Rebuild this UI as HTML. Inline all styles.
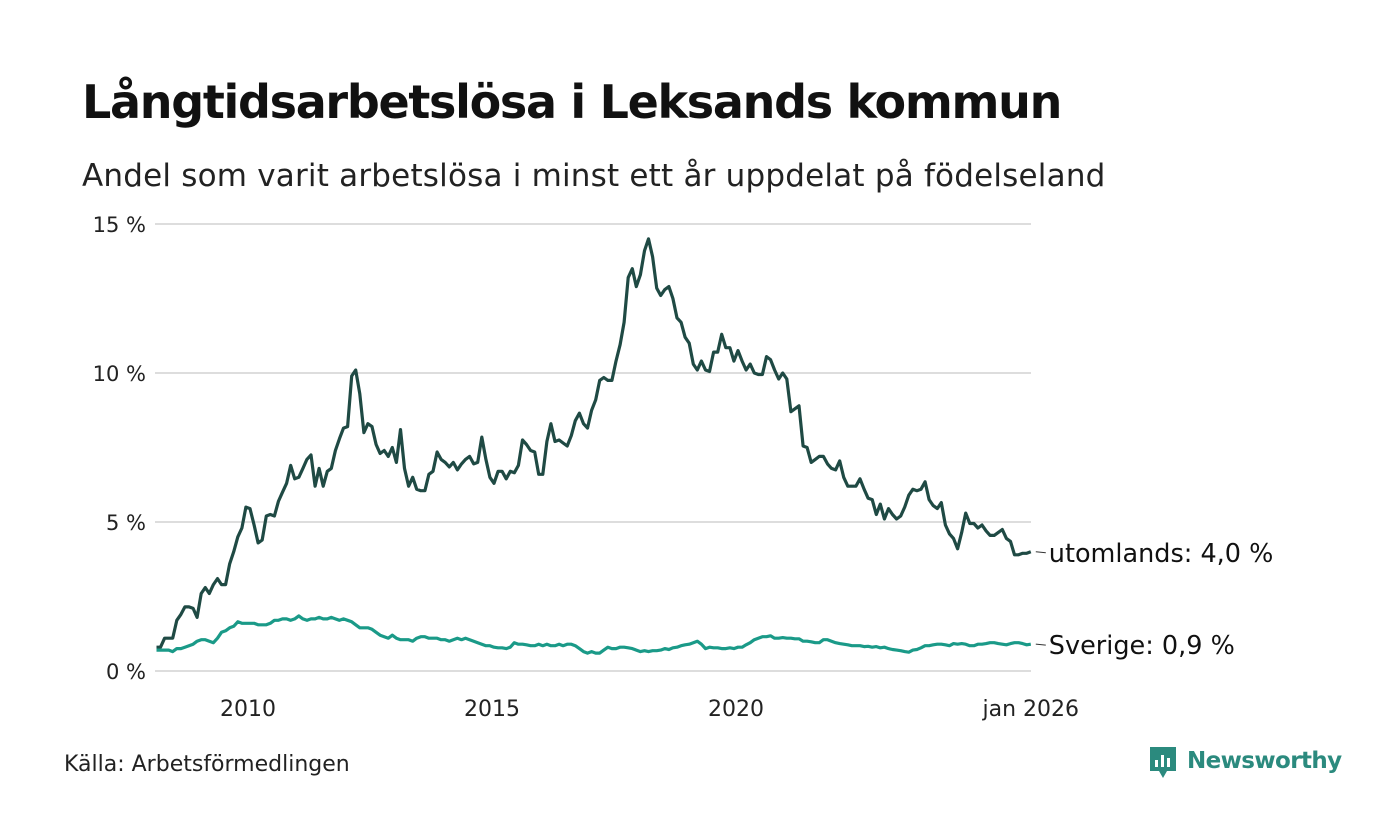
<!DOCTYPE html>
<html><head><meta charset="utf-8"><style>
html,body{margin:0;padding:0;background:#fff;}
body{width:1400px;height:840px;position:relative;overflow:hidden;font-family:"Liberation Sans","DejaVu Sans",sans-serif;}
</style></head><body>
<svg id="chart" width="1400" height="840" xmlns="http://www.w3.org/2000/svg" style="position:absolute;left:0;top:0">
<text x="82" y="118" font-size="46" font-weight="bold" fill="#111" font-family="DejaVu Sans, sans-serif" letter-spacing="-1.3">Långtidsarbetslösa i Leksands kommun</text>
<text x="82" y="186" font-size="31" fill="#222" font-family="DejaVu Sans, sans-serif" letter-spacing="0.2">Andel som varit arbetslösa i minst ett år uppdelat på födelseland</text>
<g id="grid"></g>
<g id="yticks"></g>
<g id="xticks"></g>
<g id="series"></g>
<text x="64" y="771" font-size="22" fill="#222" font-family="DejaVu Sans, sans-serif">Källa: Arbetsförmedlingen</text>
<g>
<path d="M1150 747 h26 v24 h-9 l-4 7 l-4 -7 h-9 z" fill="#2b8a7e"/>
<rect x="1155" y="760" width="3" height="7" fill="#fff"/><rect x="1161" y="755" width="3" height="12" fill="#fff"/><rect x="1167" y="758" width="3" height="9" fill="#fff"/>
<text x="1187" y="768" font-size="23" font-weight="bold" fill="#2b8a7e" font-family="DejaVu Sans, sans-serif" letter-spacing="-0.6">Newsworthy</text>
</g>
</svg>
<script>
const yTicks=[0,5,10,15];
const yTickLabels=["0 %","5 %","10 %","15 %"];
const xTickYears=[2010,2015,2020];
const startYear=2008, startMonth=1; // Feb 2008 (0-based month)
const foreign=[
0.8,0.8,1.1,1.1,1.1,1.7,1.9,2.15,2.15,2.1,1.8,
2.6,2.8,2.6,2.9,3.1,2.9,2.9,3.6,4.0,4.5,4.8,5.5,
5.45,4.9,4.3,4.4,5.2,5.25,5.2,5.7,6.0,6.3,6.9,6.45,
6.5,6.8,7.1,7.25,6.2,6.8,6.2,6.7,6.8,7.4,7.8,8.15,
8.2,9.9,10.1,9.3,8.0,8.3,8.2,7.6,7.3,7.4,7.2,7.5,
7.0,8.1,6.8,6.2,6.5,6.1,6.05,6.05,6.6,6.7,7.35,7.1,
7.0,6.85,7.0,6.75,6.95,7.1,7.2,6.95,7.0,7.85,7.1,6.5,
6.3,6.7,6.7,6.45,6.7,6.65,6.9,7.75,7.6,7.4,7.35,6.6,
6.6,7.7,8.3,7.7,7.75,7.65,7.55,7.9,8.4,8.65,8.3,8.15,
8.75,9.1,9.75,9.85,9.75,9.75,10.4,10.95,11.7,13.2,13.5,12.9,
13.3,14.1,14.5,13.9,12.85,12.6,12.8,12.9,12.5,11.85,11.7,11.2,
11.0,10.3,10.1,10.4,10.1,10.05,10.7,10.7,11.3,10.85,10.85,10.4,
10.75,10.4,10.1,10.3,10.0,9.95,9.95,10.55,10.45,10.1,9.8,10.0,
9.8,8.7,8.8,8.9,7.55,7.5,7.0,7.1,7.2,7.2,6.95,6.8,
6.75,7.05,6.5,6.2,6.2,6.2,6.45,6.1,5.8,5.75,5.25,5.6,
5.1,5.45,5.25,5.1,5.2,5.5,5.9,6.1,6.05,6.1,6.35,5.75,
5.55,5.45,5.65,4.9,4.6,4.45,4.1,4.65,5.3,4.95,4.95,4.8,
4.9,4.7,4.55,4.55,4.65,4.75,4.45,4.35,3.9,3.9,3.95,3.95,
4.0];
const sweden=[
0.7,0.7,0.7,0.7,0.65,0.75,0.75,0.8,0.85,0.9,1.0,
1.05,1.05,1.0,0.95,1.1,1.3,1.35,1.45,1.5,1.65,1.6,1.6,
1.6,1.6,1.55,1.55,1.55,1.6,1.7,1.7,1.75,1.75,1.7,1.75,
1.85,1.75,1.7,1.75,1.75,1.8,1.75,1.75,1.8,1.75,1.7,1.75,
1.7,1.65,1.55,1.45,1.45,1.45,1.4,1.3,1.2,1.15,1.1,1.2,
1.1,1.05,1.05,1.05,1.0,1.1,1.15,1.15,1.1,1.1,1.1,1.05,
1.05,1.0,1.05,1.1,1.05,1.1,1.05,1.0,0.95,0.9,0.85,0.85,
0.8,0.78,0.78,0.75,0.8,0.95,0.9,0.9,0.88,0.85,0.85,0.9,
0.85,0.9,0.85,0.85,0.9,0.85,0.9,0.9,0.85,0.75,0.65,0.6,
0.65,0.6,0.6,0.7,0.8,0.75,0.75,0.8,0.8,0.78,0.75,0.7,
0.65,0.68,0.65,0.68,0.68,0.7,0.75,0.72,0.78,0.8,0.85,0.88,
0.9,0.95,1.0,0.9,0.75,0.8,0.78,0.78,0.75,0.75,0.78,0.75,
0.8,0.8,0.88,0.95,1.05,1.1,1.15,1.15,1.18,1.1,1.1,1.12,
1.1,1.1,1.08,1.08,1.0,1.0,0.98,0.95,0.95,1.05,1.05,1.0,
0.95,0.92,0.9,0.88,0.85,0.85,0.85,0.82,0.83,0.8,0.82,0.78,
0.8,0.75,0.72,0.7,0.68,0.65,0.63,0.7,0.72,0.78,0.85,0.85,
0.88,0.9,0.9,0.88,0.85,0.92,0.9,0.92,0.9,0.85,0.85,0.9,
0.9,0.92,0.95,0.95,0.92,0.9,0.88,0.92,0.95,0.95,0.92,0.88,
0.9];
const seriesNames=["utomlands","Sverige"];
const lastLabels=["utomlands: 4,0 %","Sverige: 0,9 %"];

const NS="http://www.w3.org/2000/svg";
const x0=152.4, pxPerYear=48.8, plotRight=1031, plotLeft=155;
const yAt=v=>671-v*29.8;
const xAt=i=>x0+((startMonth+i)/12)*pxPerYear;
function mk(tag,attrs,parent){const e=document.createElementNS(NS,tag);for(const k in attrs)e.setAttribute(k,attrs[k]);parent.appendChild(e);return e;}
const grid=document.getElementById('grid'),yt=document.getElementById('yticks'),xt=document.getElementById('xticks'),ser=document.getElementById('series');
yTicks.forEach((t,i)=>{
  const l=mk('line',{x1:plotLeft,x2:plotRight,y1:yAt(t),y2:yAt(t),stroke:'#dddddd','stroke-width':2},grid);
  
  
  const tx=mk('text',{x:146,y:yAt(t)+8,'text-anchor':'end','font-size':21,fill:'#222','font-family':'DejaVu Sans, sans-serif'},yt);
  tx.textContent=yTickLabels[i];
  
  
});
xTickYears.forEach(y=>{
  const tx=mk('text',{x:x0+(y-startYear)*pxPerYear-2,y:716,'text-anchor':'middle','font-size':22,fill:'#222','font-family':'DejaVu Sans, sans-serif'},xt);
  tx.textContent=String(y);
  
  
});
const lastIdx=foreign.length-1;
const endTx=mk('text',{x:xAt(lastIdx),y:716,'text-anchor':'middle','font-size':22,fill:'#222','font-family':'DejaVu Sans, sans-serif'},xt);
endTx.textContent="jan 2026";


[[foreign,'#1f4a44'],[sweden,'#1a9a88']].forEach((s,k)=>{
  const d=s[0].map((v,i)=>(i?'L':'M')+xAt(i).toFixed(1)+' '+yAt(v).toFixed(1)).join(' ');
  const p=mk('path',{d:d,fill:'none',stroke:s[1],'stroke-width':3.2,'stroke-linejoin':'round'},ser);
  
  
  const ly=yAt(s[0][s[0].length-1]);
  const xe=xAt(s[0].length-1);
  const tk=mk('line',{x1:xe+5,x2:xe+15,y1:ly,y2:ly+1,stroke:'#333','stroke-width':1},ser);
  
  
  const t=mk('text',{x:xe+18,y:ly+10,'font-size':25.5,fill:'#111','font-family':'DejaVu Sans, sans-serif'},ser);
  t.textContent=lastLabels[k];
  
  
});
</script>
</body></html>
